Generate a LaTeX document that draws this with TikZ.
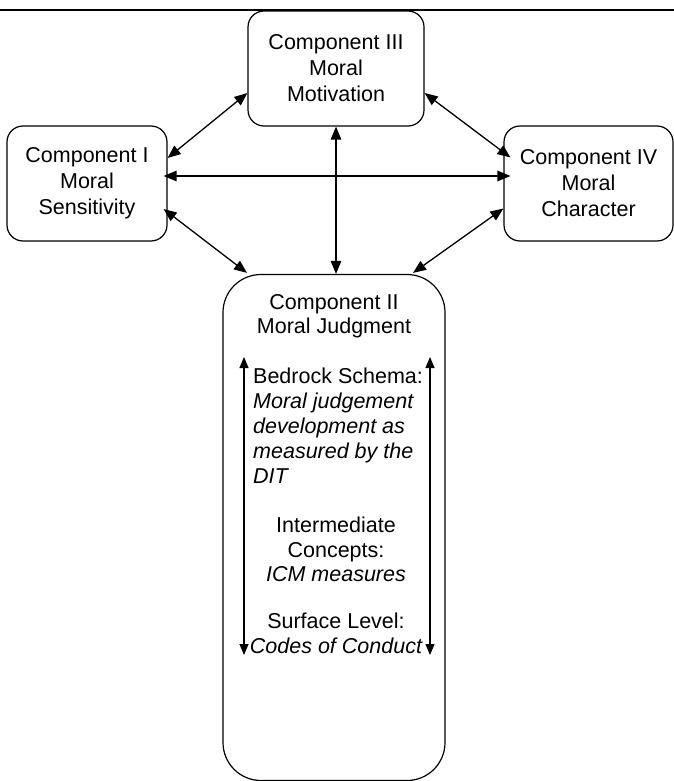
\documentclass[tikz,border=0pt]{standalone}
\usepackage{fontspec}
\setmainfont{Liberation Sans}
\usetikzlibrary{arrows.meta}
\begin{document}
\begin{tikzpicture}[x=1pt,y=-1pt,
  box/.style={draw, line width=1.2pt, rounded corners=#1, inner sep=0pt, align=center,
    font=\fontsize{21.5}{26}\selectfont},
  box/.default=16pt,
  txt/.style={inner sep=0pt, font=\fontsize{21.5}{26}\selectfont},
  itxt/.style={txt, font=\fontsize{21.5}{26}\selectfont\itshape},
  link/.style={line width=1.3pt, {Triangle[length=13pt,width=10.5pt]}-{Triangle[length=13pt,width=10.5pt]}},
  inlink/.style={line width=1.1pt, {Triangle[length=11pt,width=9pt]}-{Triangle[length=11pt,width=9pt]}},
  rule/.style={line width=2pt}
]
\useasboundingbox (0,0) rectangle (674,781);

% top rule
\coordinate (tl) at (0,10);
\coordinate (tr) at (674,10);
\draw[rule] (tl) -- (tr);

% boxes
\node[box, minimum width=160pt, minimum height=115pt] (b1) at (87,183.5)
  {Component I\\Moral\\Sensitivity};
\node[box, minimum width=176pt, minimum height=115pt] (b3) at (336,68.5)
  {Component III\\Moral\\Motivation};
\node[box, minimum width=169pt, minimum height=115pt] (b4) at (588.5,183.5)
  {Component IV\\Moral\\Character};
\node[box=38pt, minimum width=222pt, minimum height=506pt] (b2) at (334,527.5) {};

% texts in component II
\node[txt, anchor=base] (t1) at (334,309) {Component II};
\node[txt, anchor=base] (t2) at (334,333.5) {Moral Judgment};
\node[txt, anchor=base west] (t3) at (253,383) {Bedrock Schema:};
\node[itxt, anchor=base west] (t4) at (253,408) {Moral judgement};
\node[itxt, anchor=base west] (t5) at (253,433) {development as};
\node[itxt, anchor=base west] (t6) at (253,458) {measured by the};
\node[itxt, anchor=base west] (t7) at (253,483) {DIT};
\node[txt, anchor=base] (t8) at (336,532) {Intermediate};
\node[txt, anchor=base] (t9) at (336,557) {Concepts:};
\node[itxt, anchor=base] (t10) at (336,581.5) {ICM measures};
\node[txt, anchor=base] (t11) at (336,628) {Surface Level:};
\node[itxt, anchor=base] (t12) at (336,653) {Codes of Conduct};

% connectors between components
\draw[link] ([yshift=25.5pt]b1.east) -- ([yshift=-24.5pt]b3.west);
\draw[link] ([yshift=-24.5pt]b3.east) -- ([xshift=7pt,yshift=26pt]b4.west);
\draw[link] ([xshift=-4pt,yshift=7.5pt]b1.east) -- ([xshift=7pt,yshift=7.5pt]b4.west);
\draw[link] (b3.south) -- (b3.south |- b2.north);
\draw[link] ([xshift=-4pt,yshift=-25.5pt]b1.east) -- ([xshift=-87pt,yshift=1pt]b2.north);
\draw[link] ([yshift=-25pt]b4.west) -- ([xshift=79pt,yshift=1pt]b2.north);

% inner arrows
\coordinate (la) at (244,357);
\coordinate (lb) at (244,655);
\coordinate (ra) at (430,357);
\coordinate (rb) at (430,655);
\draw[inlink] (la) -- (lb);
\draw[inlink] (ra) -- (rb);
\end{tikzpicture}
\end{document}
